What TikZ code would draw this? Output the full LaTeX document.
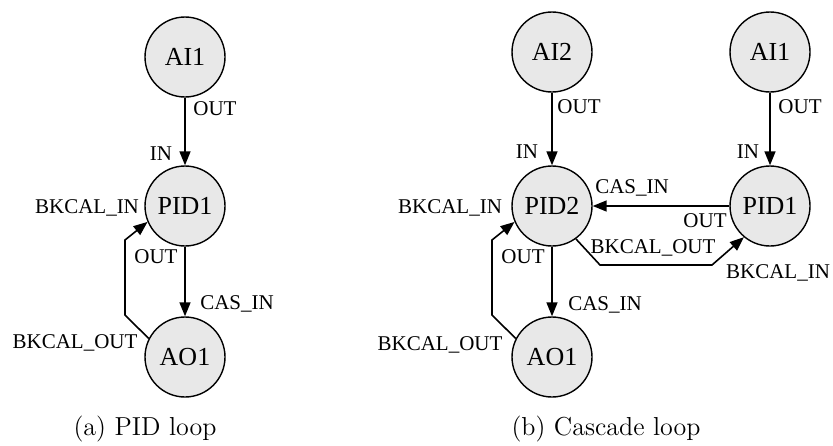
\documentclass[tikz,border=0pt]{standalone}
\usepackage{fontspec}
\newfontfamily\tms{Liberation Serif}
\usetikzlibrary{arrows.meta}
\tikzset{
  blk/.style={circle, draw=black, fill=black!9, line width=0.7pt, minimum size=40pt, inner sep=0pt, font=\tms\fontsize{13}{13}\selectfont},
  lbl/.style={anchor=base, inner sep=0pt, font=\tms\fontsize{10.5}{10.5}\selectfont},
  arr/.style={line width=0.8pt, -{Triangle[length=7pt,width=5.5pt]}},
  captxt/.style={anchor=base, inner sep=0pt, font=\fontsize{13}{13}\selectfont}
}
\begin{document}
\begin{tikzpicture}[x=0.5pt,y=-0.5pt]
\useasboundingbox (0,0) rectangle (833,445);
% ---- (a) PID loop ----
\node[blk] (ai1) at (185,57) {AI1};
\node[blk] (pid1) at (185,206) {PID1};
\node[blk] (ao1) at (185,357) {AO1};
\coordinate (la) at (125,315);
\coordinate (lb) at (125,240);
\draw[arr] (ai1) -- (pid1);
\draw[arr] (pid1) -- (ao1);
\draw[arr] (ao1.153) -- (la) -- (lb) -- (pid1.203);
\node[lbl] (a1) at (215,115) {OUT};
\node[lbl] (a2) at (161,160) {IN};
\node[lbl] (a3) at (87,213) {BKCAL\_IN};
\node[lbl] (a4) at (156,263) {OUT};
\node[lbl] (a5) at (237,309) {CAS\_IN};
\node[lbl] (a6) at (75,348) {BKCAL\_OUT};
\node[captxt] (capa) at (145,435) {(a) PID loop};
% ---- (b) Cascade loop ----
\node[blk] (ai2) at (552,52) {AI2};
\node[blk] (ai1b) at (770,52) {AI1};
\node[blk] (pid2) at (552,206) {PID2};
\node[blk] (pid1b) at (770,206) {PID1};
\node[blk] (ao1b) at (552,357) {AO1};
\coordinate (ra) at (492,315);
\coordinate (rb) at (492,240);
\coordinate (rc) at (600,265);
\coordinate (rd) at (712,265);
\draw[arr] (ai2) -- (pid2);
\draw[arr] (ai1b) -- (pid1b);
\draw[arr] (pid1b) -- (pid2);
\draw[arr] (pid2) -- (ao1b);
\draw[arr] (ao1b.153) -- (ra) -- (rb) -- (pid2.203);
\draw[arr] (pid2.-54) -- (rc) -- (rd) -- (pid1b.-130);
\node[lbl] (b1) at (579,113) {OUT};
\node[lbl] (b2) at (527,158) {IN};
\node[lbl] (b3) at (800,113) {OUT};
\node[lbl] (b4) at (748,158) {IN};
\node[lbl] (b5) at (632,193) {CAS\_IN};
\node[lbl] (b6) at (450,213) {BKCAL\_IN};
\node[lbl] (b7) at (705,227) {OUT};
\node[lbl] (b8) at (653,253) {BKCAL\_OUT};
\node[lbl] (b9) at (778,278) {BKCAL\_IN};
\node[lbl] (b10) at (523,263) {OUT};
\node[lbl] (b11) at (605,310) {CAS\_IN};
\node[lbl] (b12) at (440,350) {BKCAL\_OUT};
\node[captxt] (capb) at (606,435) {(b) Cascade loop};
\end{tikzpicture}
\end{document}
